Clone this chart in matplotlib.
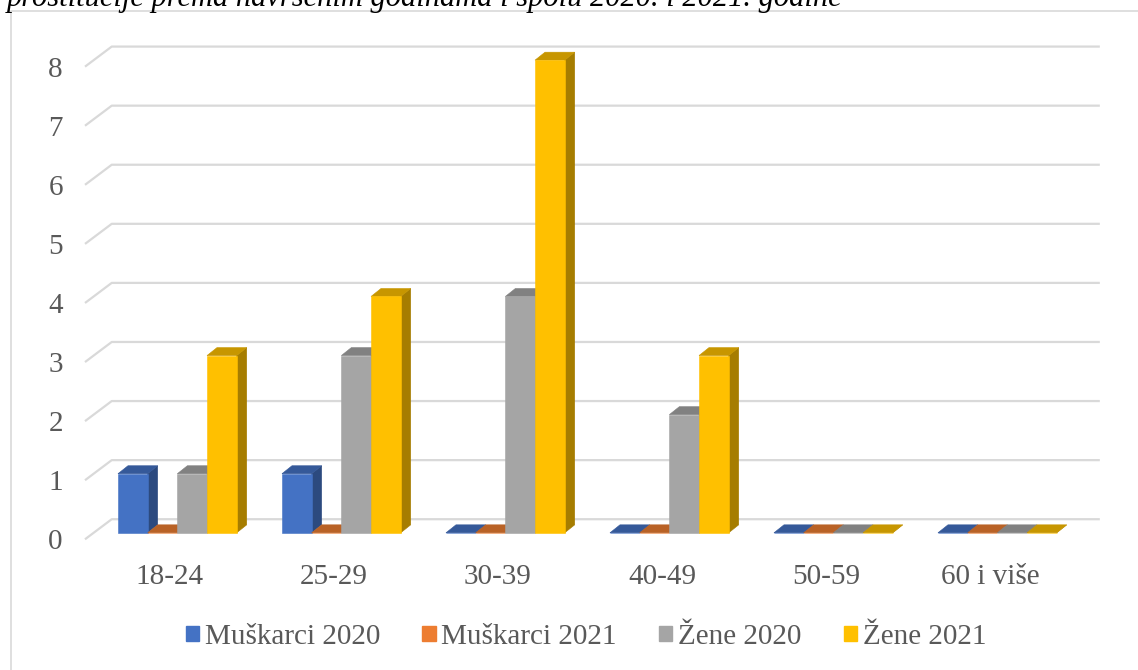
import matplotlib
matplotlib.use("Agg")
import matplotlib.pyplot as plt
from matplotlib.patches import Polygon, Patch
from matplotlib.lines import Line2D
from matplotlib.colors import to_rgb

plt.rcParams['font.family'] = ['Liberation Serif', 'DejaVu Serif']

categories = ['18-24', '25-29', '30-39', '40-49', '50-59', '60 i više']
muskarci_2020 = [1, 1, 0, 0, 0, 0]
muskarci_2021 = [0, 0, 0, 0, 0, 0]
zene_2020 = [1, 3, 4, 2, 0, 0]
zene_2021 = [3, 4, 8, 3, 0, 0]

series = [muskarci_2020, muskarci_2021, zene_2020, zene_2021]
names = ['Muškarci 2020', 'Muškarci 2021', 'Žene 2020', 'Žene 2021']
colors = ['#4472C4', '#ED7D31', '#A5A5A5', '#FFC000']

title = 'prostitucije prema navršenim godinama i spolu 2020. i 2021. godine'
text_col = '#595959'
grid_col = '#D9D9D9'

# 3d look (in data units)
bar_w = 0.181
group_off = -0.317
base = 0.11
bdx, bdy = 0.061, 0.135
fdx, fdy = 0.163, 0.34
x_lo, x_hi = -0.518, 5.75


def shade(c, f):
    r, g, b = to_rgb(c)
    return (r * f, g * f, b * f)


W, H = 1138, 670
fig = plt.figure(figsize=(W / 100, H / 100), dpi=100)
ax_l, ax_b = 85 / W, (H - 539.3) / H
ax_w = (x_hi - x_lo) * 164 / W
ax_h = 8.5 * 59.08 / H
ax = fig.add_axes([ax_l, ax_b, ax_w, ax_h])
ax.set_xlim(x_lo, x_hi)
ax.set_ylim(0, 8.5)

# gridlines (floor + back wall)
for v in range(9):
    ax.plot([x_lo, x_lo + fdx, 5.67], [v, v + fdy, v + fdy],
            color=grid_col, lw=1.6, zorder=1, clip_on=False,
            solid_capstyle='butt')

# bars
z = 2
for i in range(len(categories)):
    for k, vals in enumerate(series):
        v = vals[i]
        x0 = i + group_off + k * bar_w
        c = colors[k]
        front = [(x0, base), (x0 + bar_w, base), (x0 + bar_w, base + v), (x0, base + v)]
        top = [(x0, base + v), (x0 + bar_w, base + v),
               (x0 + bar_w + bdx, base + v + bdy), (x0 + bdx, base + v + bdy)]
        side = [(x0 + bar_w, base), (x0 + bar_w + bdx, base + bdy),
                (x0 + bar_w + bdx, base + v + bdy), (x0 + bar_w, base + v)]
        for pts, col in [(side, shade(c, 0.65)), (top, shade(c, 0.78)), (front, to_rgb(c))]:
            ax.add_patch(Polygon(pts, closed=True, facecolor=col, edgecolor=col,
                                 lw=0.4, zorder=z, clip_on=False))
        z += 1

for s in ax.spines.values():
    s.set_visible(False)
ax.set_yticks(range(9))
ax.set_yticklabels([str(v) for v in range(9)])
ax.set_xticks(range(len(categories)))
ax.set_xticklabels(categories)
ax.tick_params(axis='y', length=0, pad=16, labelsize=21, labelcolor=text_col)
ax.tick_params(axis='x', length=0, pad=17.5, labelsize=21, labelcolor=text_col)

handles = [Patch(facecolor=c, edgecolor=c) for c in colors]
fig.legend(handles, names, loc='center', bbox_to_anchor=(586 / W, 1 - 637 / H),
           ncol=4, frameon=False, fontsize=21, labelcolor=text_col,
           handlelength=0.45, handleheight=0.45, handletextpad=0.2,
           columnspacing=1.45)

# chart area border (left and top only visible)
fig.add_artist(Line2D([10.5 / W, 10.5 / W, 1.0], [0.0, 1 - 10.5 / H, 1 - 10.5 / H],
                      transform=fig.transFigure, color=grid_col, lw=1.2))

fig.text(7 / W, 1 - 6 / H, title, fontsize=22, style='italic', color='black',
         ha='left', va='baseline')

fig.savefig('out.png', dpi=100)
